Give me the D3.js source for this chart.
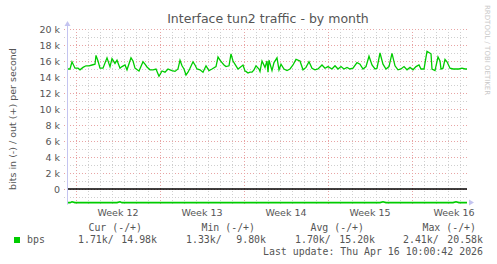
<!DOCTYPE html>
<html>
<head>
<meta charset="UTF-8">
<title>Interface tun2 traffic - by month</title>
<script src="https://cdn.jsdelivr.net/npm/d3@7/dist/d3.min.js"></script>
<style>
body { margin: 0; background: #fff; }
svg text { font-family: "DejaVu Sans", sans-serif; }
.mono { font-family: "DejaVu Sans Mono", monospace; white-space: pre; }
</style>
</head>
<body>
<div id="chart"></div>
<script>
/*global d3*/

// time window shown (UTC), samples given as hours from the start
var startTime = Date.UTC(2026, 2, 15, 6, 0);
var endTime = Date.UTC(2026, 3, 17, 14, 0);

var sampleHours = [0, 6, 10, 16, 22, 26, 32, 38, 44, 50, 56, 58, 62, 66, 72, 80, 86, 90, 96, 100,
  106, 110, 116, 120, 128, 132, 136, 144, 152, 156, 160, 166, 172, 178, 184, 190, 196, 202, 206, 210,
  216, 222, 226, 230, 234, 238, 242, 246, 252, 256, 260, 266, 272, 278, 284, 290, 298, 302, 306, 310,
  314, 318, 324, 328, 332, 338, 342, 346, 352, 356, 358, 362, 366, 370, 374, 378, 384, 386, 390, 396,
  400, 402, 404, 410, 414, 420, 424, 428, 434, 440, 446, 452, 458, 466, 472, 478, 484, 490, 496, 502,
  510, 516, 522, 530, 536, 542, 548, 554, 560, 566, 572, 580, 586, 592, 598, 604, 610, 616, 620, 626,
  632, 638, 644, 650, 656, 662, 668, 674, 680, 686, 692, 698, 704, 708, 714, 720, 728, 730, 736, 742,
  746, 748, 752, 756, 760, 766, 772, 778, 784, 790, 796, 800];

// out (+), kbit/s
var outKbps = [15.0, 15.0, 15.9, 15.1, 15.1, 14.9, 15.2, 15.4, 15.4, 15.5, 15.6, 16.7, 16.0, 15.1, 15.1, 16.4, 15.3, 16.3, 15.7, 16.1,
  15.1, 15.3, 15.5, 14.9, 16.4, 16.0, 15.1, 14.75, 15.9, 15.6, 15.25, 14.9, 14.9, 15.0, 14.1, 14.75, 14.6, 15.0, 14.9, 14.8,
  14.7, 15.0, 16.1, 15.4, 15.0, 14.25, 14.6, 15.1, 15.9, 15.5, 15.0, 14.9, 14.6, 15.4, 14.8, 15.0, 15.3, 16.5, 16.1, 15.8,
  15.5, 15.3, 15.4, 16.9, 16.0, 15.4, 15.0, 15.2, 15.5, 14.75, 14.7, 14.5, 14.6, 14.6, 14.9, 15.4, 15.0, 14.7, 16.0, 15.2,
  16.0, 14.6, 16.1, 14.8, 15.8, 16.4, 14.9, 15.6, 15.0, 14.8, 15.0, 15.5, 16.2, 16.0, 14.9, 15.2, 15.9, 15.1, 14.9, 15.0,
  15.5, 15.1, 15.3, 15.0, 15.4, 15.0, 15.3, 15.0, 15.2, 15.0, 15.1, 15.8, 15.6, 15.0, 15.3, 16.6, 15.5, 15.0, 15.1, 17.0,
  15.6, 15.0, 15.3, 16.95, 15.4, 14.9, 15.0, 15.3, 14.9, 15.2, 14.9, 15.3, 15.5, 15.0, 15.0, 17.2, 16.9, 15.0, 14.8, 16.5,
  16.0, 15.0, 15.1, 16.2, 15.9, 15.1, 15.0, 15.0, 15.0, 15.1, 15.0, 15.0];

// in (-), kbit/s, drawn below zero
var inKbps = sampleHours.map(function(h) { return 1.71; });
var inDips = [10, 34, 106, 632, 754, 778];  // hours where the in line dips
var inDipValues = [1.6, 1.6, 1.6, 1.6, 1.6, 1.6];

var yTicks = [0, 2, 4, 6, 8, 10, 12, 14, 16, 18, 20];
var legendHeaders = ["Cur (-/+)", "Min (-/+)", "Avg (-/+)", "Max (-/+)"];
var legendIn = ["1.71k/", "1.33k/", "1.70k/", "2.41k/"];
var legendOut = ["14.98k", "9.80k", "15.20k", "20.58k"];
var lastUpdate = "Last update: Thu Apr 16 10:00:42 2026";

var W = 497, H = 264;
var plotLeft = 67, plotRight = 467, plotTop = 29;

var svg = d3.select("#chart").append("svg")
  .attr("width", W)
  .attr("height", H);

var x = d3.scaleUtc()
  .domain([new Date(startTime), new Date(endTime)])
  .range([plotLeft, plotRight]);

var y = d3.scaleLinear()
  .domain([0, 20])
  .range([189, plotTop]);

var plotBottom = y(-1.7);

function t(h) { return new Date(startTime + h * 3600000); }

// grid
var minorDays = d3.utcDay.range(x.domain()[0], x.domain()[1]);
var weeks = d3.utcMonday.range(x.domain()[0], x.domain()[1]);
var majorColor = "#e8a4a4", minorColor = "#cfcfcf";

svg.append("g").selectAll("line")
  .data(d3.range(-1, 21))
  .enter().append("line")
  .attr("x1", plotLeft - 3).attr("x2", plotRight + 1)
  .attr("y1", function(d) { return Math.round(y(d)) + 0.5; })
  .attr("y2", function(d) { return Math.round(y(d)) + 0.5; })
  .attr("stroke", function(d) { return d % 2 == 0 ? majorColor : minorColor; })
  .attr("stroke-dasharray", "1,2");

svg.append("g").selectAll("line")
  .data(minorDays)
  .enter().append("line")
  .attr("x1", function(d) { return Math.round(x(d)) + 0.5; })
  .attr("x2", function(d) { return Math.round(x(d)) + 0.5; })
  .attr("y1", plotTop).attr("y2", plotBottom + 3)
  .attr("stroke", function(d) { return d.getUTCDay() == 1 ? majorColor : minorColor; })
  .attr("stroke-dasharray", "1,2");

// y labels
svg.append("g").selectAll("text")
  .data(yTicks)
  .enter().append("text")
  .attr("x", 60)
  .attr("y", function(d) { return y(d) + 3.5; })
  .attr("text-anchor", "end")
  .attr("font-size", "9.5px")
  .attr("fill", "#555")
  .text(function(d) { return d == 0 ? "0" : d + " k"; });

// week labels
svg.append("g").selectAll("text")
  .data(weeks)
  .enter().append("text")
  .attr("x", function(d) { return x(d3.utcHour.offset(d, 84)); })
  .attr("y", 216)
  .attr("text-anchor", "middle")
  .attr("font-size", "9.5px")
  .attr("fill", "#555")
  .text(function(d) { return "Week " + d3.utcFormat("%V")(d); });

// zero line
svg.append("line")
  .attr("x1", plotLeft).attr("x2", plotRight)
  .attr("y1", y(0)).attr("y2", y(0))
  .attr("stroke", "#000").attr("stroke-width", 1.6);

// series
var inMap = {};
inDips.forEach(function(h, i) { inMap[h] = inDipValues[i]; });
var inSeries = sampleHours.map(function(h, i) { return [h, inMap[h] != null ? inMap[h] : inKbps[i]]; });

var line = d3.line()
  .x(function(d) { return x(t(d[0])); })
  .y(function(d) { return y(d[1]); });

svg.append("path")
  .datum(inSeries.map(function(d) { return [d[0], -d[1]]; }))
  .attr("fill", "none")
  .attr("stroke", "#00cc00")
  .attr("stroke-width", 1.7)
  .attr("d", line);

svg.append("path")
  .datum(sampleHours.map(function(h, i) { return [h, outKbps[i]]; }))
  .attr("fill", "none")
  .attr("stroke", "#00cc00")
  .attr("stroke-width", 1.3)
  .attr("d", line);

// axes with arrows
var axisColor = "#c4c4f0";
svg.append("line")
  .attr("x1", plotLeft + 0.5).attr("x2", plotLeft + 0.5)
  .attr("y1", plotBottom + 2).attr("y2", plotTop - 6)
  .attr("stroke", axisColor);
svg.append("path")
  .attr("d", "M" + (plotLeft - 2.5) + "," + (plotTop - 3) + "L" + (plotLeft + 0.5) + "," + (plotTop - 8) + "L" + (plotLeft + 3.5) + "," + (plotTop - 3) + "Z")
  .attr("fill", axisColor);
svg.append("path")
  .attr("d", "M" + (plotRight + 2) + "," + (plotBottom - 3) + "L" + (plotRight + 7) + "," + plotBottom + "L" + (plotRight + 2) + "," + (plotBottom + 3) + "Z")
  .attr("fill", axisColor);

// title and side texts
svg.append("text")
  .attr("x", 268).attr("y", 23)
  .attr("text-anchor", "middle")
  .attr("font-size", "12.5px")
  .attr("fill", "#555")
  .text("Interface tun2 traffic - by month");

svg.append("text")
  .attr("transform", "translate(16,119) rotate(-90)")
  .attr("text-anchor", "middle")
  .attr("font-size", "9.5px")
  .attr("fill", "#555")
  .text("bits in (-) / out (+) per second");

svg.append("text")
  .attr("transform", "translate(485,5) rotate(90)")
  .attr("font-size", "7px")
  .attr("fill", "#c8c8c8")
  .text("RRDTOOL / TOBI OETIKER");

// legend
svg.append("rect")
  .attr("x", 14).attr("y", 237).attr("width", 6).attr("height", 6)
  .attr("fill", "#00cc00");
svg.append("text").attr("class", "mono")
  .attr("x", 27).attr("y", 243).attr("font-size", "9.9px").attr("fill", "#555")
  .text("bps");

var headerEnds = [142, 255, 364, 476];
var inStarts = [78, 186, 295, 403];
var outEnds = [157, 266, 375, 483];

svg.append("g").selectAll("text")
  .data(legendHeaders)
  .enter().append("text").attr("class", "mono")
  .attr("x", function(d, i) { return headerEnds[i]; })
  .attr("y", 231).attr("text-anchor", "end")
  .attr("font-size", "9.9px").attr("fill", "#555")
  .text(function(d) { return d; });

svg.append("g").selectAll("text")
  .data(legendIn)
  .enter().append("text").attr("class", "mono")
  .attr("x", function(d, i) { return inStarts[i]; })
  .attr("y", 243)
  .attr("font-size", "9.9px").attr("fill", "#555")
  .text(function(d) { return d; });

svg.append("g").selectAll("text")
  .data(legendOut)
  .enter().append("text").attr("class", "mono")
  .attr("x", function(d, i) { return outEnds[i]; })
  .attr("y", 243).attr("text-anchor", "end")
  .attr("font-size", "9.9px").attr("fill", "#555")
  .text(function(d) { return d; });

svg.append("text").attr("class", "mono")
  .attr("x", 483).attr("y", 255).attr("text-anchor", "end")
  .attr("font-size", "9.9px").attr("fill", "#555")
  .text(lastUpdate);
</script>
</body>
</html>
